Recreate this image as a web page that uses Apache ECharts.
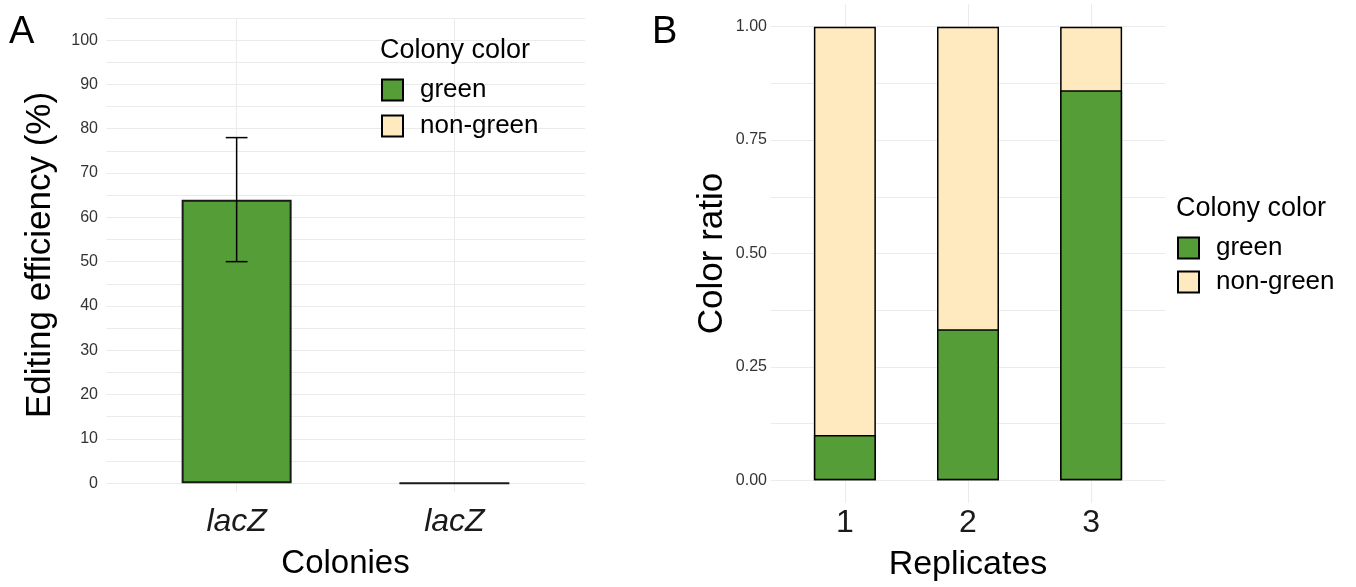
<!DOCTYPE html>
<html>
<head>
<meta charset="utf-8">
<script src="https://cdn.jsdelivr.net/npm/echarts@6/dist/echarts.min.js"></script>
<style>
  html, body { margin: 0; padding: 0; background: #fff; }
  #chart { width: 1356px; height: 587px; }
</style>
</head>
<body>
<div id="chart"></div>
<script>
// Panel A - editing efficiency per colony group
const colonies = ['lacZ', 'lacZ'];
const efficiencyGreen = [64, null];
const efficiencyNonGreen = [null, 0];
const errorLow = [50, null];
const errorHigh = [78, null];
const efficiencyTicks = [0, 10, 20, 30, 40, 50, 60, 70, 80, 90, 100];
const efficiencyGrid = [0, 5, 10, 15, 20, 25, 30, 35, 40, 45, 50, 55, 60, 65, 70, 75, 80, 85, 90, 95, 100, 105];

// Panel B - colour ratio per replicate
const replicates = ['1', '2', '3'];
const ratioGreen = [0.10, 0.333, 0.86];
const ratioNonGreen = [0.90, 0.667, 0.14];
const ratioTicks = [0, 0.25, 0.5, 0.75, 1];
const ratioGrid = [0, 0.125, 0.25, 0.375, 0.5, 0.625, 0.75, 0.875, 1];

const GREEN = '#559e37';
const BEIGE = '#ffe9bf';
const GRID = '#ebebeb';
const FONT = '"Liberation Sans", Arial, sans-serif';

function positioned(values) {
    const out = [];
    values.forEach((v, i) => {
        if (v !== null) out.push([i + 1, v]);
    });
    return out;
}

const positions = (labels) => labels.map((_, i) => i + 1);

const errorData = [];
errorLow.forEach((lo, i) => {
    if (lo !== null) errorData.push([i + 1, lo, errorHigh[i]]);
});

// non-green drawn as the full stack height, green laid over it
const ratioTotal = ratioGreen.map((g, i) => g + ratioNonGreen[i]);

function legendFor(left, top, gap) {
    return {
        orient: 'vertical',
        left: left,
        top: top,
        padding: 0,
        icon: 'rect',
        itemWidth: 21,
        itemHeight: 21,
        itemGap: gap,
        selectedMode: false,
        itemStyle: { borderColor: '#000', borderWidth: 2 },
        textStyle: { fontSize: 26, color: '#000', fontFamily: FONT, padding: [0, 0, 0, 12] },
        data: ['green', 'non-green'],
    };
}

const titleStyle = (size) => ({ fontSize: size, fontWeight: 'normal', color: '#000', fontFamily: FONT });

const option = {
    animation: false,
    textStyle: { fontFamily: FONT },
    title: [
        { text: 'A', left: 9, top: 14, padding: 0, textStyle: titleStyle(38) },
        { text: 'B', left: 652, top: 14, padding: 0, textStyle: titleStyle(38) },
        { text: 'Colony color', left: 380, top: 37, padding: 0, textStyle: titleStyle(27) },
        { text: 'Colony color', left: 1176, top: 195, padding: 0, textStyle: titleStyle(27) },
    ],
    legend: [legendFor(381, 77, 10), legendFor(1177, 235, 8)],
    grid: [
        { left: 106, right: 771, top: 18, bottom: 95 },
        { left: 771, right: 191, top: 4, bottom: 82 },
    ],
    xAxis: [
        {
            gridIndex: 0,
            type: 'value',
            min: 0.4,
            max: 2.6,
            name: 'Colonies',
            nameLocation: 'middle',
            nameGap: 55,
            nameTextStyle: { fontSize: 33, color: '#000' },
            axisLine: { show: false, onZero: false },
            axisTick: { show: false, customValues: positions(colonies) },
            axisLabel: {
                customValues: positions(colonies),
                formatter: (v) => colonies[Math.round(v) - 1],
                fontSize: 32,
                fontStyle: 'italic',
                color: '#1a1a1a',
                margin: 14,
            },
            splitLine: { show: true, lineStyle: { color: GRID, width: 1 } },
        },
        {
            gridIndex: 1,
            type: 'value',
            min: 0.4,
            max: 3.6,
            name: 'Replicates',
            nameLocation: 'middle',
            nameGap: 45,
            nameTextStyle: { fontSize: 34, color: '#000' },
            axisLine: { show: false, onZero: false },
            axisTick: { show: false, customValues: positions(replicates) },
            axisLabel: {
                customValues: positions(replicates),
                formatter: (v) => replicates[Math.round(v) - 1],
                fontSize: 32,
                color: '#1a1a1a',
                margin: 4,
            },
            splitLine: { show: true, lineStyle: { color: GRID, width: 1 } },
        },
    ],
    yAxis: [
        {
            gridIndex: 0,
            type: 'value',
            min: -2,
            max: 105,
            name: 'Editing efficiency (%)',
            nameLocation: 'middle',
            nameGap: 48,
            nameTextStyle: { fontSize: 35, color: '#000' },
            axisLine: { show: false },
            axisTick: { show: false, customValues: efficiencyGrid },
            axisLabel: {
                customValues: efficiencyTicks,
                fontSize: 16,
                color: '#333',
                margin: 8,
            },
            splitLine: { show: true, lineStyle: { color: GRID, width: 1 } },
        },
        {
            gridIndex: 1,
            type: 'value',
            min: -0.05,
            max: 1.05,
            name: 'Color ratio',
            nameLocation: 'middle',
            nameGap: 41,
            nameTextStyle: { fontSize: 35, color: '#000' },
            axisLine: { show: false },
            axisTick: { show: false, customValues: ratioGrid },
            axisLabel: {
                customValues: ratioTicks,
                formatter: (v) => v.toFixed(2),
                fontSize: 16,
                color: '#333',
                margin: 4,
            },
            splitLine: { show: true, lineStyle: { color: GRID, width: 1 } },
        },
    ],
    series: [
        {
            name: 'green',
            type: 'bar',
            xAxisIndex: 0,
            yAxisIndex: 0,
            barWidth: 110,
            barGap: '-100%',
            data: positioned(efficiencyGreen),
            itemStyle: { color: GREEN, borderColor: '#1a1a1a', borderWidth: 2 },
        },
        {
            name: 'non-green',
            type: 'bar',
            xAxisIndex: 0,
            yAxisIndex: 0,
            barWidth: 110,
            barGap: '-100%',
            data: positioned(efficiencyNonGreen),
            itemStyle: { color: BEIGE, borderColor: '#1a1a1a', borderWidth: 2 },
        },
        {
            name: 'error',
            type: 'custom',
            xAxisIndex: 0,
            yAxisIndex: 0,
            data: errorData,
            encode: { x: 0, y: [1, 2] },
            z: 5,
            renderItem: function (params, api) {
                const x = api.value(0);
                const top = api.coord([x, api.value(2)]);
                const bot = api.coord([x, api.value(1)]);
                const capL = api.coord([x - 0.05, 0])[0];
                const capR = api.coord([x + 0.05, 0])[0];
                const style = { stroke: '#000', lineWidth: 1.5 };
                return {
                    type: 'group',
                    children: [
                        { type: 'line', shape: { x1: top[0], y1: top[1], x2: bot[0], y2: bot[1] }, style: style },
                        { type: 'line', shape: { x1: capL, y1: top[1], x2: capR, y2: top[1] }, style: style },
                        { type: 'line', shape: { x1: capL, y1: bot[1], x2: capR, y2: bot[1] }, style: style },
                    ],
                };
            },
        },
        {
            name: 'non-green',
            type: 'bar',
            xAxisIndex: 1,
            yAxisIndex: 1,
            barWidth: 62,
            barGap: '-100%',
            data: positioned(ratioTotal),
            itemStyle: { color: BEIGE, borderColor: '#000', borderWidth: 1.5 },
        },
        {
            name: 'green',
            type: 'bar',
            xAxisIndex: 1,
            yAxisIndex: 1,
            barWidth: 62,
            barGap: '-100%',
            data: positioned(ratioGreen),
            itemStyle: { color: GREEN, borderColor: '#000', borderWidth: 1.5 },
        },
    ],
};

const chart = echarts.init(document.getElementById('chart'));
chart.setOption(option);
window.addEventListener('resize', () => chart.resize());
</script>
</body>
</html>
